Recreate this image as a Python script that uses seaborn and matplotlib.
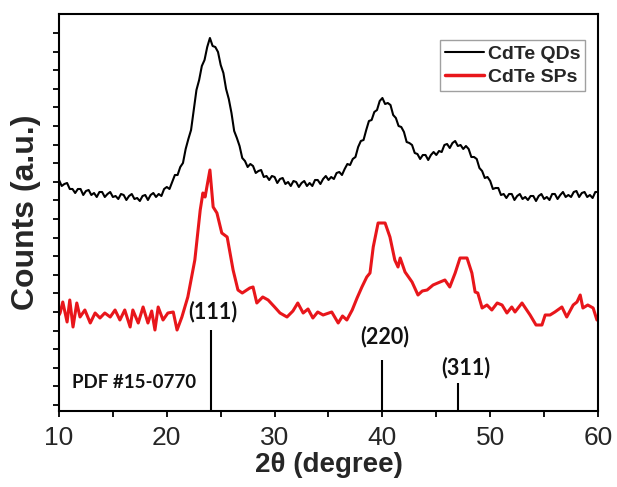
import numpy as np
import pandas as pd
import matplotlib
matplotlib.use("Agg")
import matplotlib.pyplot as plt
from matplotlib.ticker import FixedLocator, MultipleLocator
import seaborn as sns

# CdTe QDs: counts (a.u.) on a 0.25 degree grid from 10 to 60
qd_counts = [
    231, 225, 227, 228, 222, 222, 218, 222, 222, 216, 220, 221, 216, 218, 214, 219,
    219, 214, 217, 219, 214, 215, 212, 217, 216, 211, 215, 217, 212, 213, 210, 215,
    216, 211, 216, 218, 214, 217, 215, 222, 224, 222, 229, 236, 236, 244, 248, 262,
    272, 281, 301, 321, 331, 345, 351, 364, 373, 365, 364, 359, 346, 338, 322, 312,
    298, 280, 273, 265, 253, 250, 244, 247, 245, 238, 240, 241, 234, 235, 231, 235,
    234, 228, 232, 233, 227, 229, 225, 230, 229, 224, 228, 230, 225, 228, 225, 231,
    231, 227, 232, 235, 231, 234, 232, 238, 239, 236, 242, 247, 246, 252, 254, 264,
    270, 271, 281, 290, 291, 299, 301, 310, 313, 307, 308, 306, 296, 293, 285, 284,
    279, 269, 268, 266, 258, 257, 252, 256, 256, 251, 256, 259, 256, 260, 259, 266,
    267, 263, 268, 270, 265, 266, 262, 265, 262, 254, 254, 252, 243, 240, 233, 234,
    230, 222, 223, 223, 216, 217, 213, 217, 217, 211, 215, 217, 212, 214, 211, 215,
    215, 210, 215, 217, 212, 214, 211, 217, 217, 212, 216, 219, 214, 216, 214, 219,
    220, 214, 218, 219, 214, 216, 213, 219, 219,
]
qd_theta = np.linspace(10, 60, len(qd_counts))

# CdTe SPs: read point by point
sp_theta = [
    10.0, 10.1, 10.35, 10.75, 11.0, 11.3, 11.65, 11.95, 12.4, 12.9, 13.35, 13.8,
    14.25, 14.75, 15.2, 15.65, 16.1, 16.6, 16.85, 17.35, 17.8, 18.25, 18.6, 18.9,
    19.2, 19.65, 20.1, 20.6, 20.95, 21.4, 21.95, 22.6, 23.1, 23.35, 23.55, 24.0,
    24.3, 24.65, 25.1, 25.6, 26.15, 26.6, 27.0, 27.7, 28.0, 28.35, 28.9, 29.4,
    30.0, 30.5, 31.15, 31.7, 32.15, 32.65, 33.1, 33.55, 34.0, 34.5, 35.3, 35.9,
    36.3, 36.7, 37.2, 37.65, 38.1, 38.55, 38.85, 39.15, 39.6, 40.25, 40.7, 41.15,
    41.45, 41.65, 42.1, 42.75, 43.3, 43.7, 44.15, 44.7, 45.35, 45.8, 46.25, 46.75,
    47.2, 47.85, 48.3, 48.6, 48.85, 49.25, 49.7, 50.15, 50.65, 51.1, 51.55, 52.0,
    52.3, 52.95, 53.7, 54.25, 54.8, 55.1, 55.55, 56.0, 56.65, 57.1, 57.7, 58.05,
    58.35, 58.6, 59.05, 59.55, 59.9,
]
sp_counts = [
    96, 98, 109, 89, 111, 84, 108, 94, 101, 88, 98, 93,
    98, 94, 101, 91, 101, 84, 101, 88, 104, 88, 100, 81,
    104, 91, 98, 99, 81, 94, 114, 151, 201, 218, 214, 241,
    204, 198, 178, 174, 141, 121, 118, 123, 124, 108, 114, 111,
    104, 98, 94, 100, 108, 98, 102, 93, 99, 96, 99, 88,
    95, 91, 101, 113, 124, 134, 138, 164, 188, 188, 174, 151,
    144, 153, 139, 129, 116, 120, 121, 126, 129, 131, 124, 138,
    153, 153, 138, 119, 118, 103, 106, 101, 108, 106, 98, 104,
    99, 108, 96, 86, 86, 96, 96, 99, 104, 94, 106, 109,
    116, 103, 106, 103, 91,
]

# PDF #15-0770 reference lines
pdf_theta = [24.1, 39.95, 47.0]
pdf_height = [81, 51, 28]
pdf_labels = ["(111)", "(220)", "(311)"]

qd = pd.DataFrame({"theta": qd_theta, "counts": qd_counts})
sp = pd.DataFrame({"theta": sp_theta, "counts": sp_counts})

sns.set_style("ticks")
plt.rcParams["font.family"] = ["Liberation Sans", "DejaVu Sans"]

fig = plt.figure(figsize=(6.17, 4.87), dpi=100)
ax = fig.add_axes([59 / 617, 76 / 487, 539 / 617, 397 / 487])

sns.lineplot(data=qd, x="theta", y="counts", ax=ax, color="black",
             linewidth=1.5, label="CdTe QDs")
sns.lineplot(data=sp, x="theta", y="counts", ax=ax, color="#e8161b",
             linewidth=2.2, label="CdTe SPs")

ax.vlines(pdf_theta, 0, pdf_height, color="black", linewidth=1.5)
lab_x = [24.3, 40.25, 47.7]
lab_y = [99, 74, 43]
for lx, ly, t in zip(lab_x, lab_y, pdf_labels):
    ax.text(lx, ly, t, ha="center", va="center", fontsize=15.5,
            fontweight="bold", family=["Lato", "DejaVu Sans"], color="#111111")
ax.text(17.0, 29, "PDF #15-0770", ha="center", va="center", fontsize=13.5,
        fontweight="bold", family=["Lato", "DejaVu Sans"], color="#111111")

ax.set_xlim(10, 60)
ax.set_ylim(0, 397)
ax.xaxis.set_major_locator(MultipleLocator(10))
ax.xaxis.set_minor_locator(MultipleLocator(5))
ax.yaxis.set_major_locator(FixedLocator(np.arange(6, 390, 18.6)))
ax.set_yticklabels([])
ax.tick_params(axis="both", which="both", direction="out", length=4.5,
               width=1.3, color="black")
ax.tick_params(axis="x", which="major", labelsize=19, pad=6)

for s in ax.spines.values():
    s.set_visible(True)
    s.set_linewidth(1.5)
    s.set_color("black")

ax.set_xlabel("2θ (degree)", fontsize=20, fontweight="bold", labelpad=2)
ax.set_ylabel("Counts (a.u.)", fontsize=23, fontweight="bold", labelpad=5)

leg = ax.legend(loc="upper right", bbox_to_anchor=(0.976, 0.934),
                prop={"weight": "bold", "size": 14}, frameon=True,
                fancybox=False, borderpad=0.25, handlelength=2.0,
                handletextpad=0.2, labelspacing=0.3, borderaxespad=0)
leg.get_frame().set_edgecolor("#888888")
leg.get_frame().set_linewidth(1.0)
leg.get_lines()[1].set_linewidth(2.5)

fig.savefig("out.png", dpi=100)
